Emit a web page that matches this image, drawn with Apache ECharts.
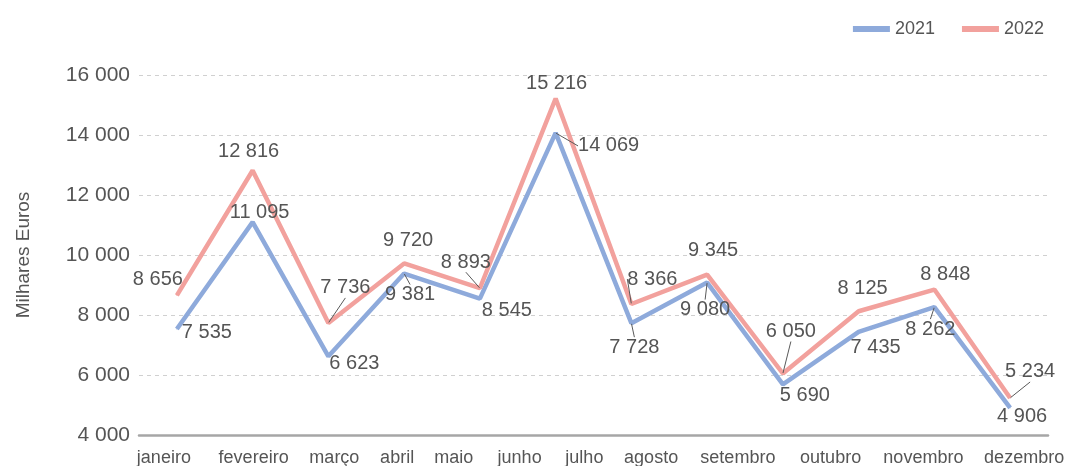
<!DOCTYPE html>
<html>
<head>
<meta charset="utf-8">
<script src="https://cdn.jsdelivr.net/npm/echarts@6/dist/echarts.min.js"></script>
<style>
  html, body { margin: 0; padding: 0; background: #fff; }
  #chart { width: 1065px; height: 466px; }
</style>
</head>
<body>
<div id="chart"></div>
<script>
// data
const months = ['janeiro', 'fevereiro', 'março', 'abril', 'maio', 'junho',
  'julho', 'agosto', 'setembro', 'outubro', 'novembro', 'dezembro'];
const values2021 = [7535, 11095, 6623, 9381, 8545, 14069, 7728, 9080, 5690, 7435, 8262, 4906];
const values2022 = [8656, 12816, 7736, 9720, 8893, 15216, 8366, 9345, 6050, 8125, 8848, 5234];
const yTicks = { min: 4000, max: 16000, step: 2000 };

// label placement (pixels from the point), and which labels get a leader line
const offsets2021 = [[30, 4], [7, -10], [26, 7], [6, 21], [27, 12], [53, 13],
  [3, 24], [-2, 27], [22, 11], [17, 16], [-4, 22], [12, 9]];
const offsets2022 = [[-19, -16], [-4, -19], [17, -35], [4, -23], [-14, -26], [1, -15],
  [21, -25], [6, -24], [8, -42], [4, -23], [11, -15], [20, -26]];
const leaders2021 = [3, 5, 6, 7, 10];
const leaders2022 = [2, 4, 6, 8, 11];
// month labels in the original are packed left, not centred on the points
const monthShift = [-13, 1, 6, -7, -26, -36, -47, -56, -45, -28, -11, 14];

const FONT = '"Liberation Sans", Arial, sans-serif';
const TXT = '#555555';

function fmt(v) {
  return String(v).replace(/\B(?=(\d{3})+(?!\d))/g, ' ');
}

function buildData(values, leaders) {
  return values.map((v, i) => ({
    value: v,
    labelLine: { show: leaders.indexOf(i) >= 0 }
  }));
}

function lineSeries(name, values, color, offsets, leaders) {
  return {
    name: name,
    type: 'line',
    data: buildData(values, leaders),
    symbol: 'circle',
    symbolSize: 1,
    showSymbol: true,
    itemStyle: { color: color },
    lineStyle: { color: color, width: 4.5 },
    label: {
      show: true,
      position: 'inside',
      fontFamily: FONT,
      fontSize: 20,
      color: TXT,
      formatter: p => fmt(p.value)
    },
    labelLine: {
      show: false,
      lineStyle: { color: '#595959', width: 1 }
    },
    labelLayout: p => ({ dx: offsets[p.dataIndex][0], dy: offsets[p.dataIndex][1] }),
    emphasis: { disabled: true }
  };
}

const rich = {};
monthShift.forEach((s, i) => {
  rich['m' + i] = {
    fontFamily: FONT,
    fontSize: 18,
    color: TXT,
    padding: [0, s < 0 ? -2 * s : 0, 0, s > 0 ? 2 * s : 0]
  };
});

const chart = echarts.init(document.getElementById('chart'));
chart.setOption({
  animation: false,
  textStyle: { fontFamily: FONT },
  legend: {
    right: 16,
    top: 15,
    icon: 'rect',
    itemWidth: 37,
    itemHeight: 6,
    itemGap: 27,
    textStyle: { fontFamily: FONT, fontSize: 18, color: TXT },
    data: ['2021', '2022']
  },
  grid: {
    left: 139,
    right: 17,
    top: 75,
    bottom: 31,
    containLabel: false,
    outerBoundsMode: 'none'
  },
  xAxis: {
    type: 'category',
    data: months,
    boundaryGap: true,
    axisLine: { lineStyle: { color: '#A6A6A6', width: 2.5 } },
    axisTick: { show: false },
    axisLabel: {
      margin: 14,
      interval: 0,
      formatter: (v, i) => '{m' + i + '|' + v + '}',
      rich: rich
    }
  },
  yAxis: {
    type: 'value',
    min: yTicks.min,
    max: yTicks.max,
    interval: yTicks.step,
    name: 'Milhares Euros',
    nameLocation: 'middle',
    nameGap: 106,
    nameRotate: 90,
    nameTextStyle: { fontFamily: FONT, fontSize: 19, color: TXT },
    axisLine: { show: false },
    axisTick: { show: false },
    axisLabel: {
      margin: 9,
      fontFamily: FONT,
      fontSize: 21,
      color: TXT,
      formatter: v => fmt(v)
    },
    splitLine: { lineStyle: { color: '#D0D0D0', type: [4, 4], width: 1 } }
  },
  series: [
    lineSeries('2021', values2021, '#8EAADB', offsets2021, leaders2021),
    lineSeries('2022', values2022, '#F2A19D', offsets2022, leaders2022)
  ]
});
</script>
</body>
</html>
